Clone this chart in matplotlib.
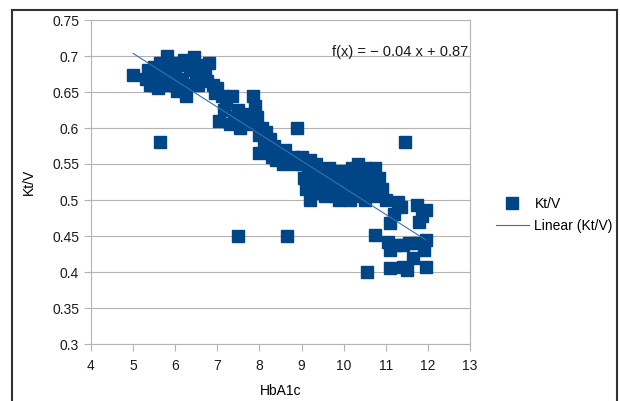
import numpy as np
import matplotlib
matplotlib.use("Agg")
import matplotlib.pyplot as plt
from matplotlib.lines import Line2D

plt.rcParams['font.family'] = ['Liberation Sans', 'DejaVu Sans']

# HbA1c / Kt/V values
hba1c = [
    # top cluster
    5.0, 5.3, 5.35, 5.4, 5.45, 5.5, 5.55, 5.6, 5.65, 5.7, 5.75, 5.8, 5.85, 5.9,
    5.95, 6.0, 6.05, 6.1, 6.15, 6.2, 6.25, 6.3, 6.35, 6.4, 6.45, 6.5, 6.55, 6.6,
    6.7, 6.75, 6.8, 6.9, 6.95, 5.5, 6.0, 6.3,
    # chain 7-9
    7.0, 7.1, 7.05, 7.15, 7.2, 7.3, 7.35, 7.4, 7.5, 7.55, 7.65, 7.7, 7.8, 7.85,
    7.9, 7.95, 8.0, 8.05, 8.0, 8.1, 8.15, 8.2, 8.25, 8.3, 8.35, 8.4, 8.45, 8.5,
    8.55, 8.6, 8.7, 8.8, 8.85, 8.9, 9.0, 9.2,
    # middle cluster 9-11
    9.0, 9.05, 9.1, 9.15, 9.2, 9.25, 9.3, 9.35, 9.4, 9.45, 9.5, 9.55, 9.6, 9.65,
    9.7, 9.75, 9.8, 9.85, 9.9, 9.95, 10.0, 10.05, 10.1, 10.15, 10.2, 10.25, 10.3,
    10.35, 10.4, 10.45, 10.5, 10.5, 10.55, 10.6, 10.65, 10.7, 10.75, 10.8, 10.85,
    10.9, 9.2,
    # right cluster 11-12
    11.0, 11.3, 11.35, 11.75, 11.95, 11.2, 11.1, 11.8, 11.85, 10.75, 11.05, 11.1,
    11.25, 11.4, 11.55, 11.75, 11.95, 11.9, 11.65, 11.1, 11.4, 11.5, 11.95, 10.55,
    # outliers
    5.65, 11.45, 7.5, 8.65,
]
ktv = [
    0.673, 0.668, 0.680, 0.660, 0.675, 0.685, 0.665, 0.655, 0.690, 0.672, 0.660,
    0.700, 0.682, 0.665, 0.690, 0.675, 0.652, 0.688, 0.668, 0.695, 0.645, 0.660,
    0.680, 0.690, 0.698, 0.672, 0.660, 0.688, 0.682, 0.665, 0.690, 0.660, 0.648,
    0.660, 0.660, 0.690,
    0.655, 0.645, 0.610, 0.625, 0.635, 0.605, 0.645, 0.615, 0.625, 0.600, 0.610,
    0.620, 0.605, 0.645, 0.630, 0.615, 0.590, 0.600, 0.565, 0.580, 0.595, 0.570,
    0.585, 0.560, 0.575, 0.555, 0.565, 0.560, 0.550, 0.570, 0.555, 0.560, 0.550,
    0.600, 0.560, 0.555,
    0.550, 0.530, 0.515, 0.545, 0.525, 0.540, 0.510, 0.550, 0.530, 0.520, 0.540,
    0.505, 0.525, 0.545, 0.515, 0.535, 0.505, 0.520, 0.500, 0.540, 0.525, 0.510,
    0.530, 0.500, 0.545, 0.520, 0.505, 0.550, 0.530, 0.515, 0.545, 0.500, 0.525,
    0.510, 0.540, 0.520, 0.545, 0.505, 0.530, 0.515, 0.500,
    0.500, 0.497, 0.490, 0.493, 0.486, 0.480, 0.468, 0.470, 0.478, 0.451, 0.442,
    0.430, 0.438, 0.437, 0.440, 0.440, 0.444, 0.430, 0.420, 0.406, 0.407, 0.403,
    0.407, 0.400,
    0.580, 0.580, 0.450, 0.450,
]

x_ticks = [4, 5, 6, 7, 8, 9, 10, 11, 12, 13]
y_ticks = [0.3, 0.35, 0.4, 0.45, 0.5, 0.55, 0.6, 0.65, 0.7, 0.75]
y_labels = ["0.3", "0.35", "0.4", "0.45", "0.5", "0.55", "0.6", "0.65", "0.7", "0.75"]

blue = "#004586"
grid_col = "#b3b3b3"

fig = plt.figure(figsize=(6.2, 4.01), dpi=100)
ax = fig.add_axes([91 / 620, 57 / 401, 379 / 620, 324 / 401])

ax.plot(hba1c, ktv, linestyle="none", marker="s", markersize=8,
        color=blue, markeredgecolor=blue, label="Kt/V", zorder=3)

# linear trend line through the data
xa = np.array(hba1c)
k, b = np.polyfit(xa, np.array(ktv), 1)
xl = np.array([xa.min(), xa.max()])
ax.plot(xl, k * xl + b, color="#3a6fb0", linewidth=0.8, label="Linear (Kt/V)", zorder=4)

ax.set_xlim(4, 13)
ax.set_ylim(0.3, 0.75)
ax.set_xticks(x_ticks)
ax.set_yticks(y_ticks)
ax.set_yticklabels(y_labels)
ax.yaxis.grid(True, color=grid_col, linewidth=0.8)
ax.set_axisbelow(True)
for s in ax.spines.values():
    s.set_color(grid_col)
    s.set_linewidth(0.8)
ax.tick_params(axis="both", colors=grid_col, labelcolor="#1a1a1a",
               labelsize=10, length=5, width=0.8, direction="out")
ax.tick_params(axis="x", pad=6)

ax.set_xlabel("HbA1c", fontsize=10, labelpad=8)
ax.set_ylabel("Kt/V", fontsize=10, labelpad=12)

ax.text(0.995, 0.90, "f(x) = \u2212 0.04 x + 0.87", transform=ax.transAxes,
        ha="right", va="center", fontsize=10.5, color="#1a1a1a")

fig.legend(loc="center left", bbox_to_anchor=(490 / 620, 1 - 215 / 401),
           frameon=False, fontsize=10, handlelength=2.4, handletextpad=0.4,
           labelspacing=0.6, borderaxespad=0)

# outer frame of the chart
fc = "#333333"
fig.add_artist(Line2D([12 / 620, 12 / 620], [0, 1 - 10 / 401], color=fc, lw=1.5))
fig.add_artist(Line2D([617 / 620, 617 / 620], [0, 1 - 10 / 401], color=fc, lw=1.5))
fig.add_artist(Line2D([12 / 620, 617 / 620], [1 - 10 / 401, 1 - 10 / 401], color=fc, lw=1.5))

fig.savefig("out.png", dpi=100)
